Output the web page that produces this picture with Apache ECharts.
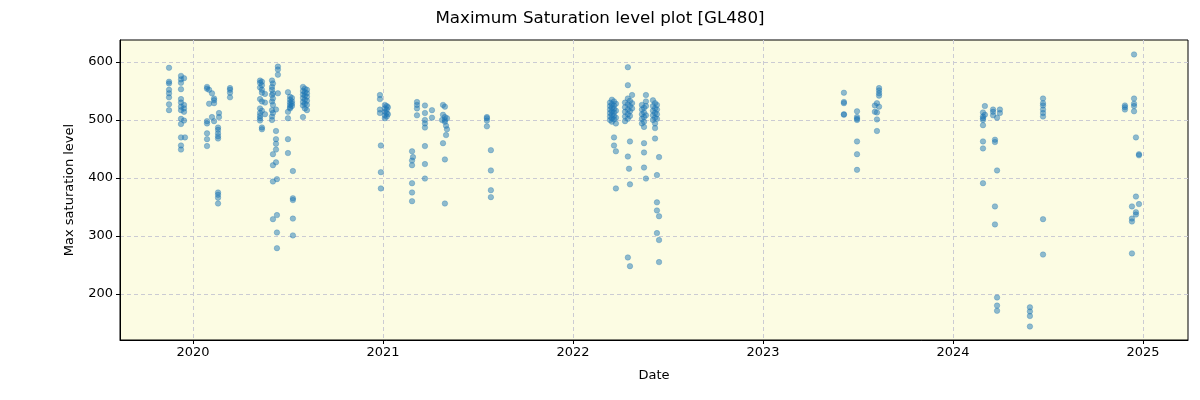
<!DOCTYPE html>
<html>
<head>
<meta charset="utf-8">
<title>Maximum Saturation level plot [GL480]</title>
<script src="https://cdn.jsdelivr.net/npm/echarts@6/dist/echarts.min.js"></script>
<style>
	html, body { margin: 0; padding: 0; background: #fff; }
	#main { width: 1200px; height: 400px; }
</style>
</head>
<body>
<div id="main"></div>
<script>
// observation date (decimal year) -> saturation levels read at that date
var obsDates = [
	2019.874, 2019.937, 2019.953, 2019.958, 2020.074, 2020.085, 2020.100, 2020.111, 2020.132, 2020.137,
	2020.195, 2020.353, 2020.363, 2020.379, 2020.416, 2020.421, 2020.437, 2020.442, 2020.447, 2020.500,
	2020.511, 2020.521, 2020.526, 2020.579, 2020.589, 2020.600,
	2020.984, 2020.989, 2021.010, 2021.020, 2021.026, 2021.153, 2021.158, 2021.179, 2021.221, 2021.258,
	2021.311, 2021.316, 2021.326, 2021.332, 2021.337, 2021.547, 2021.568,
	2022.195, 2022.205, 2022.216, 2022.226, 2022.274, 2022.289, 2022.295, 2022.300, 2022.311, 2022.363,
	2022.374, 2022.384, 2022.421, 2022.432, 2022.442, 2022.453,
	2023.426, 2023.495, 2023.589, 2023.600, 2023.611,
	2024.158, 2024.168, 2024.211, 2024.221, 2024.232, 2024.247, 2024.405, 2024.474,
	2024.905, 2024.942, 2024.953, 2024.963, 2024.979
];
var obsLevels = [
	[590, 566, 563, 552, 546, 539, 527, 517],
	[576, 570, 564, 553, 536, 530, 523, 517, 502, 493, 470, 456, 449],
	[572, 526, 520, 514, 499],
	[470],
	[557, 554, 498, 494, 477, 467, 455],
	[552, 528],
	[546, 505],
	[537, 534, 529, 498],
	[487, 483, 477, 472, 468, 375, 371, 366, 356],
	[512, 505],
	[555, 552, 547, 539],
	[568, 564, 556, 536, 520, 512, 507, 503, 499],
	[566, 560, 552, 547, 532, 516, 487, 484],
	[545, 530, 510],
	[568, 557, 552, 543, 532, 517, 506, 500],
	[563, 546, 537, 526, 512, 441, 422, 394, 329],
	[518, 481, 467, 459, 449, 427],
	[398, 336, 306, 279],
	[592, 587, 578, 546],
	[548, 514, 503, 467, 443],
	[540, 535, 530, 526, 522, 520],
	[538, 532, 528, 524],
	[412, 365, 362, 330, 301],
	[557, 550, 544, 538, 531, 525, 505],
	[554, 548, 542, 535, 528, 520],
	[552, 546, 540, 533, 526, 517],
	[543, 536, 518, 512],
	[456, 410, 382],
	[526, 520, 514, 508, 503],
	[524, 518, 512, 506],
	[522, 510],
	[446, 430, 422, 391, 375, 360],
	[436],
	[531, 526, 520, 508],
	[525, 512, 500, 494, 487, 455, 424, 399],
	[517, 504],
	[500],
	[526, 509, 460],
	[523, 505, 500, 497, 432, 356],
	[490, 474],
	[484, 503],
	[505, 503, 499, 489],
	[448, 413, 379, 367],
	[530, 524, 518, 512, 506, 500],
	[535, 527, 521, 515, 509, 503, 497],
	[532, 525, 519, 513, 507, 501, 470, 456],
	[528, 516, 504, 494, 446, 382],
	[530, 522, 514, 506, 498],
	[591, 560, 537, 527, 518, 510, 502, 437, 263],
	[416],
	[533, 524, 515, 507, 463, 389, 248],
	[543, 529, 520],
	[526, 518, 510, 502, 494],
	[521, 513, 505, 497, 488, 460, 444, 418],
	[543, 532, 524, 508, 399],
	[534, 524, 516, 508, 500],
	[529, 520, 512, 504, 494, 486, 468],
	[526, 518, 510, 502, 405, 358, 344, 305],
	[436, 334, 293, 255],
	[547, 531, 529, 510, 509],
	[515, 505, 502, 500, 463, 441, 414],
	[525, 514],
	[529, 513, 501, 481],
	[555, 551, 546, 542, 523],
	[513, 506, 503, 500, 491, 463, 451, 391],
	[524, 509],
	[518, 514, 508],
	[466, 462, 351, 320],
	[504, 413, 194, 180, 171],
	[518, 512],
	[177, 170, 162, 144],
	[537, 529, 525, 518, 512, 506, 329, 268],
	[525, 522, 518],
	[351, 330, 325, 270],
	[613, 537, 528, 524, 515],
	[470, 368, 341, 337],
	[441, 439, 355]
];
var yearTicks = [2020, 2021, 2022, 2023, 2024, 2025];
var levelTicks = [200, 300, 400, 500, 600];

var points = [];
for (var i = 0; i < obsDates.length; i++) {
	for (var j = 0; j < obsLevels[i].length; j++) {
		points.push([obsDates[i], obsLevels[i][j]]);
	}
}

var font = 'DejaVu Sans';
var chart = echarts.init(document.getElementById('main'));
chart.setOption({
	animation: false,
	backgroundColor: '#ffffff',
	title: {
		text: 'Maximum Saturation level plot [GL480]',
		left: 'center',
		top: 5,
		textStyle: { fontFamily: font, fontSize: 16.7, fontWeight: 'normal', color: '#000' }
	},
	grid: {
		left: 120, right: 12, top: 40, bottom: 60,
		show: true,
		backgroundColor: '#fcfce3',
		borderColor: '#000',
		borderWidth: 1
	},
	xAxis: {
		type: 'value',
		min: 2019.616,
		max: 2025.237,
		name: 'Date',
		nameLocation: 'middle',
		nameGap: 29,
		nameTextStyle: { fontFamily: font, fontSize: 13, color: '#000' },
		axisLine: { show: true, onZero: false, lineStyle: { color: '#000' } },
		axisTick: { show: true, length: 4, customValues: yearTicks, lineStyle: { color: '#000' } },
		axisLabel: {
			customValues: yearTicks,
			fontFamily: font, fontSize: 13, color: '#000', margin: 6,
			formatter: function (v) { return String(Math.round(v)); }
		},
		splitLine: { show: true, lineStyle: { color: '#cbcbd3', type: [4, 3], width: 1 } }
	},
	yAxis: {
		type: 'value',
		min: 120.7,
		max: 637.9,
		name: 'Max saturation level',
		nameLocation: 'middle',
		nameGap: 44,
		nameTextStyle: { fontFamily: font, fontSize: 13, color: '#000' },
		axisLine: { show: true, onZero: false, lineStyle: { color: '#000' } },
		axisTick: { show: true, length: 4, customValues: levelTicks, lineStyle: { color: '#000' } },
		axisLabel: {
			customValues: levelTicks,
			fontFamily: font, fontSize: 13, color: '#000', margin: 7,
			formatter: function (v) { return String(Math.round(v)); }
		},
		splitLine: { show: true, lineStyle: { color: '#cbcbd3', type: [4, 3], width: 1 } }
	},
	series: [{
		type: 'scatter',
		data: points,
		symbol: 'circle',
		symbolSize: 5.5,
		itemStyle: {
			color: 'rgba(31,119,180,0.62)',
			borderColor: 'rgba(31,119,180,0.75)',
			borderWidth: 0.5
		}
	}]
});
</script>
</body>
</html>
